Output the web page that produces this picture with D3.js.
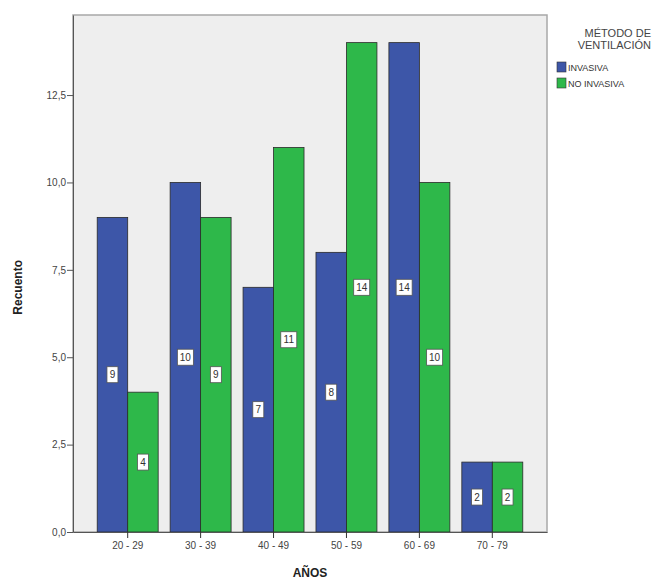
<!DOCTYPE html>
<html>
<head>
<meta charset="utf-8">
<script src="https://cdn.jsdelivr.net/npm/d3@7"></script>
<style>
  body { margin: 0; background: #fff; }
  svg { display: block; font-family: "Liberation Sans", Arial, sans-serif; }
</style>
</head>
<body>
<div id="chart"></div>
<script>
const categories = ["20 - 29", "30 - 39", "40 - 49", "50 - 59", "60 - 69", "70 - 79"];
const seriesNames = ["INVASIVA", "NO INVASIVA"];
const invasiva = [9, 10, 7, 8, 14, 2];
const noInvasiva = [4, 9, 11, 14, 10, 2];
const yTicks = [0, 2.5, 5, 7.5, 10, 12.5];
const colors = ["#3d56a8", "#2eb84a"];

const width = 654, height = 582;
const margin = { left: 73, right: 107, top: 15, bottom: 50 };

const svg = d3.select("#chart").append("svg")
    .attr("width", width)
    .attr("height", height);

const x0 = d3.scaleBand()
    .domain(categories)
    .range([margin.left, width - margin.right])
    .paddingInner(0.164)
    .paddingOuter(0.332);
const x1 = d3.scaleBand()
    .domain(seriesNames)
    .range([0, x0.bandwidth()]);
const y = d3.scaleLinear()
    .domain([0, 14.79])
    .range([height - margin.bottom, margin.top]);

// plot background
svg.append("rect")
    .attr("x", margin.left)
    .attr("y", margin.top)
    .attr("width", width - margin.right - margin.left)
    .attr("height", height - margin.bottom - margin.top)
    .attr("fill", "#eeeeee")
    .attr("stroke", "#a8a8a8")
    .attr("stroke-width", 1.5);

const rows = categories.map((c, i) => ({ cat: c, vals: [invasiva[i], noInvasiva[i]] }));

const groups = svg.selectAll("g.grp").data(rows).join("g")
    .attr("class", "grp")
    .attr("transform", d => `translate(${x0(d.cat)},0)`);

groups.selectAll("rect").data(d => d.vals.map((v, j) => ({ v, j }))).join("rect")
    .attr("x", d => x1(seriesNames[d.j]))
    .attr("y", d => y(d.v))
    .attr("width", x1.bandwidth())
    .attr("height", d => y(0) - y(d.v))
    .attr("fill", d => colors[d.j])
    .attr("stroke", "#2a2a2a")
    .attr("stroke-width", 0.8);

// value labels
const lab = groups.selectAll("g.lab").data(d => d.vals.map((v, j) => ({ v, j }))).join("g")
    .attr("class", "lab")
    .attr("transform", d => `translate(${x1(seriesNames[d.j]) + x1.bandwidth() / 2},${y(d.v / 2)})`);
lab.append("rect")
    .attr("x", d => d.v >= 10 ? -8 : -5.5)
    .attr("y", -8)
    .attr("width", d => d.v >= 10 ? 16 : 11)
    .attr("height", 16)
    .attr("fill", "#fff")
    .attr("stroke", "#555")
    .attr("stroke-width", 0.8);
lab.append("text")
    .attr("text-anchor", "middle")
    .attr("dy", "0.35em")
    .attr("font-size", 10)
    .attr("fill", "#333")
    .text(d => d.v);

// axes
const yAxis = svg.append("g")
    .attr("transform", `translate(${margin.left},0)`)
    .call(d3.axisLeft(y).tickValues(yTicks).tickSize(6).tickSizeOuter(0)
        .tickFormat(d => d3.format(".1f")(d).replace(".", ",")));
yAxis.select(".domain").attr("stroke", "#555");
yAxis.selectAll(".tick line").attr("stroke", "#555");
yAxis.selectAll(".tick text").attr("font-size", 10).attr("fill", "#444")
    .attr("font-family", "Liberation Sans, Arial, sans-serif").attr("x", -7);

const xAxis = svg.append("g")
    .attr("transform", `translate(0,${height - margin.bottom})`)
    .call(d3.axisBottom(x0).tickSize(6).tickSizeOuter(0));
xAxis.select(".domain").attr("stroke", "#555");
xAxis.selectAll(".tick line").attr("stroke", "#333");
xAxis.selectAll(".tick text").attr("font-size", 10).attr("fill", "#444")
    .attr("font-family", "Liberation Sans, Arial, sans-serif").attr("y", 10);

// axis titles
svg.append("text")
    .attr("x", (margin.left + width - margin.right) / 2)
    .attr("y", 577)
    .attr("text-anchor", "middle")
    .attr("font-size", 12)
    .attr("font-weight", "bold")
    .attr("fill", "#222")
    .text("AÑOS");
svg.append("text")
    .attr("transform", `translate(22,${y(7)}) rotate(-90)`)
    .attr("text-anchor", "middle")
    .attr("font-size", 12)
    .attr("font-weight", "bold")
    .attr("fill", "#222")
    .text("Recuento");

// legend
const legend = svg.append("g");
legend.selectAll("text.title").data(["MÉTODO DE", "VENTILACIÓN"]).join("text")
    .attr("class", "title")
    .attr("x", 651)
    .attr("y", (d, i) => 37 + i * 12)
    .attr("text-anchor", "end")
    .attr("font-size", 11)
    .attr("fill", "#444")
    .text(d => d);
const items = legend.selectAll("g.item").data(seriesNames).join("g")
    .attr("class", "item")
    .attr("transform", (d, i) => `translate(557,${62 + i * 16})`);
items.append("rect")
    .attr("width", 9)
    .attr("height", 10)
    .attr("fill", (d, i) => colors[i])
    .attr("stroke", "#333")
    .attr("stroke-width", 0.6);
items.append("text")
    .attr("x", 11)
    .attr("y", 9)
    .attr("font-size", 9)
    .attr("fill", "#333")
    .text(d => d);
</script>
</body>
</html>
